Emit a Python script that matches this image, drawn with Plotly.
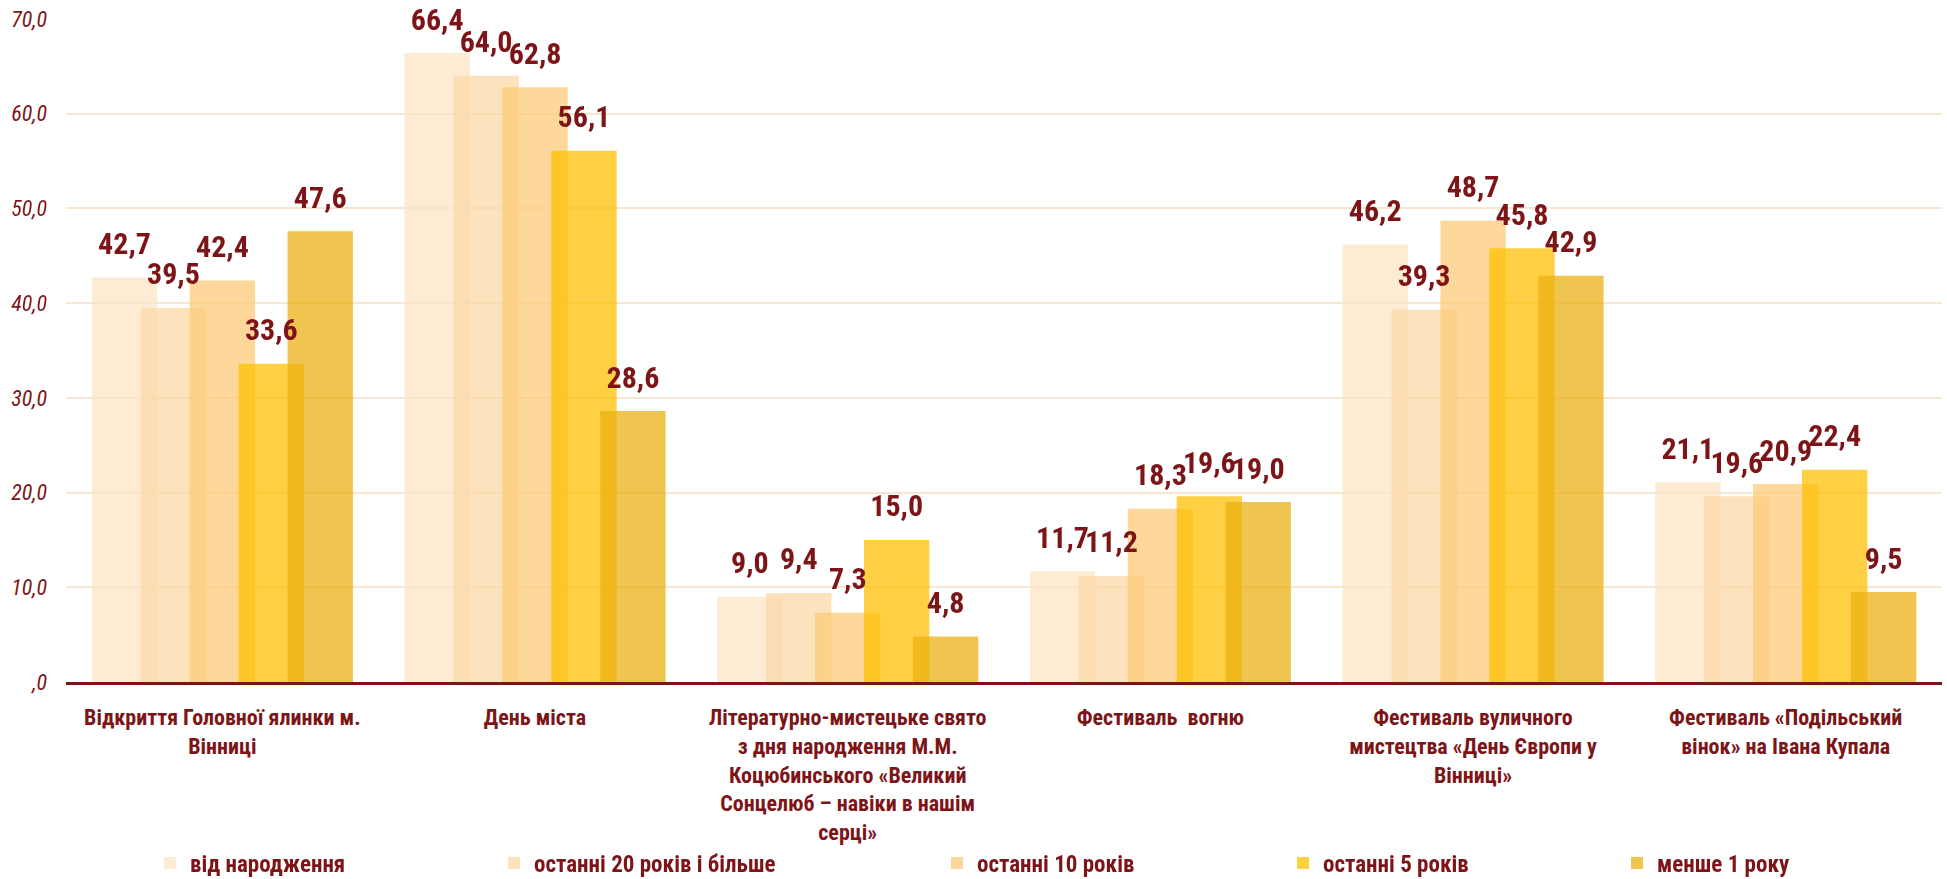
import plotly.graph_objects as go

categories = [
    "Відкриття Головної ялинки м.<br>Вінниці",
    "День міста",
    "Літературно-мистецьке свято<br>з дня народження М.М.<br>Коцюбинського «Великий<br>Сонцелюб – навіки в нашім<br>серці»",
    "Фестиваль  вогню",
    "Фестиваль вуличного<br>мистецтва «День Європи у<br>Вінниці»",
    "Фестиваль «Подільський<br>вінок» на Івана Купала",
]

series_names = [
    "від народження",
    "останні 20 років і більше",
    "останні 10 років",
    "останні 5 років",
    "менше 1 року",
]

s_birth = [42.7, 66.4, 9.0, 11.7, 46.2, 21.1]
s_20y = [39.5, 64.0, 9.4, 11.2, 39.3, 19.6]
s_10y = [42.4, 62.8, 7.3, 18.3, 48.7, 20.9]
s_5y = [33.6, 56.1, 15.0, 19.6, 45.8, 22.4]
s_1y = [47.6, 28.6, 4.8, 19.0, 42.9, 9.5]

y_tick_vals = [0, 10, 20, 30, 40, 50, 60, 70]
y_tick_text = [",0", "10,0", "20,0", "30,0", "40,0", "50,0", "60,0", "70,0"]

series_values = [s_birth, s_20y, s_10y, s_5y, s_1y]

# style
colors = ["#FCE4C5", "#FCD8A7", "#FCCA77", "#FFC000", "#EBB111"]
bar_opacity = 0.74
dark_red = "#7D1518"
grid_color = "#F6E6D2"
font_family = "Roboto Condensed, Liberation Sans Narrow, Arial Narrow, DejaVu Sans Condensed, sans-serif"
bar_width = 0.209
first_offset = -0.4173
step = 0.1565

legend_text_px = [190, 534, 977, 1323, 1657]
W, H = 1947, 879
ml, mr, mt, mb = 66, 5, 19, 197
plot_w = W - ml - mr
plot_h = H - mt - mb

fig = go.Figure()
x_idx = list(range(len(categories)))

for i, (name, vals) in enumerate(zip(series_names, series_values)):
    off = first_offset + i * step
    fig.add_trace(go.Bar(
        x=x_idx, y=vals, name=name,
        offset=off, width=bar_width,
        marker=dict(color=colors[i], line=dict(width=0)),
        opacity=bar_opacity,
        legend="legend" if i == 0 else f"legend{i+1}",
        hoverinfo="skip",
    ))

for i, vals in enumerate(series_values):
    off = first_offset + i * step + bar_width / 2
    fig.add_trace(go.Scatter(
        x=[k + off for k in x_idx], y=vals,
        mode="markers+text",
        marker=dict(size=24, color="rgba(0,0,0,0)"),
        text=[f"{v:.1f}".replace(".", ",") for v in vals],
        textposition="top center",
        textfont=dict(family=font_family, size=30, color=dark_red, weight="bold"),
        showlegend=False, hoverinfo="skip", cliponaxis=False,
    ))

legend_y = (H - mb - 863) / plot_h
layout_legends = {}
for i, px in enumerate(legend_text_px):
    key = "legend" if i == 0 else f"legend{i+1}"
    layout_legends[key] = dict(
        x=(px - 40 - ml) / plot_w, y=legend_y,
        xanchor="left", yanchor="middle",
        orientation="h",
        bgcolor="rgba(0,0,0,0)",
        font=dict(family=font_family, size=23, color=dark_red, weight="bold"),
    )

fig.update_layout(
    width=W, height=H,
    margin=dict(l=ml, r=mr, t=mt, b=mb, autoexpand=False),
    paper_bgcolor="white", plot_bgcolor="white",
    barmode="overlay",
    showlegend=True,
    xaxis=dict(
        range=[-0.5, 5.5], automargin=False,
        tickmode="array", tickvals=x_idx, ticktext=categories,
        showgrid=False, zeroline=False,
        showline=True, linecolor=dark_red, linewidth=3,
        ticks="", ticklabelstandoff=14,
        tickfont=dict(family=font_family, size=22, color=dark_red, weight="bold"),
    ),
    yaxis=dict(
        range=[0, 70], automargin=False,
        tickmode="array", tickvals=y_tick_vals, ticktext=y_tick_text,
        showgrid=True, gridcolor=grid_color, gridwidth=2,
        zeroline=False, showline=False,
        ticks="", ticklabelstandoff=18,
        tickfont=dict(family=font_family, size=22, color=dark_red, style="italic"),
    ),
    **layout_legends,
)

fig.write_html(
    "out.html",
    config={"displayModeBar": False},
    post_script="document.body.style.margin='0';document.body.style.overflow='hidden';",
)
